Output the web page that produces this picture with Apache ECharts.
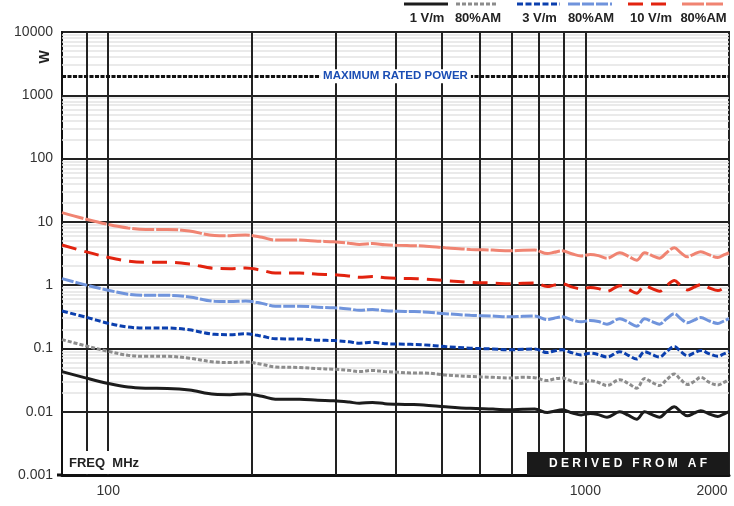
<!DOCTYPE html>
<html><head><meta charset="utf-8">
<script src="https://cdn.jsdelivr.net/npm/echarts@6/dist/echarts.min.js"></script>
<style>html,body{margin:0;padding:0;background:#fff}#c{width:734px;height:506px}</style>
</head><body><div id="c"></div>
<script>
const freqMHz = [80,90,100,110,120,133,148,167,180,194,210,224,252,275,297,320,336,358,380,406,430,458,509,574,640,694,740,783,832,860,894,940,980,1024,1065,1110,1181,1230,1281,1331,1380,1430,1480,1536,1585,1637,1690,1745,1820,1895,1950,2000];
const w1Vm = [0.043,0.034,0.028,0.0245,0.0235,0.0233,0.022,0.0188,0.0186,0.019,0.0175,0.0158,0.0158,0.0152,0.0149,0.0142,0.0136,0.014,0.0134,0.0131,0.013,0.0128,0.012,0.0113,0.011,0.0107,0.0109,0.011,0.0097,0.0102,0.0107,0.0095,0.0089,0.0094,0.009,0.0082,0.01,0.0088,0.0076,0.01,0.009,0.0082,0.01,0.012,0.01,0.0086,0.0095,0.0104,0.0092,0.0084,0.0092,0.01];
const w1VmAM = [0.138,0.109,0.09,0.078,0.075,0.075,0.07,0.061,0.06,0.061,0.056,0.051,0.05,0.048,0.047,0.045,0.043,0.045,0.043,0.042,0.041,0.041,0.038,0.036,0.035,0.034,0.035,0.0345,0.031,0.033,0.034,0.03,0.028,0.031,0.029,0.026,0.032,0.028,0.0235,0.0335,0.029,0.026,0.032,0.0395,0.032,0.027,0.03,0.035,0.029,0.0265,0.029,0.032];
const w3Vm = [0.39,0.31,0.25,0.218,0.21,0.21,0.197,0.167,0.165,0.17,0.156,0.142,0.141,0.135,0.133,0.127,0.121,0.125,0.119,0.117,0.116,0.114,0.107,0.101,0.098,0.095,0.097,0.098,0.086,0.091,0.095,0.085,0.079,0.084,0.08,0.073,0.089,0.078,0.068,0.089,0.08,0.073,0.089,0.107,0.089,0.077,0.085,0.093,0.082,0.075,0.082,0.089];
const w3VmAM = [1.27,1.0,0.83,0.72,0.69,0.69,0.65,0.555,0.55,0.56,0.515,0.466,0.466,0.448,0.44,0.419,0.4,0.413,0.395,0.386,0.383,0.378,0.354,0.333,0.325,0.316,0.322,0.325,0.286,0.3,0.316,0.28,0.263,0.277,0.266,0.242,0.295,0.26,0.224,0.295,0.266,0.242,0.295,0.354,0.295,0.254,0.28,0.307,0.271,0.248,0.271,0.295];
const w10Vm = [4.3,3.35,2.75,2.4,2.3,2.3,2.15,1.84,1.82,1.86,1.71,1.55,1.55,1.49,1.46,1.39,1.33,1.37,1.31,1.28,1.27,1.25,1.18,1.11,1.08,1.05,1.07,1.08,0.95,1.0,1.05,0.93,0.87,0.92,0.88,0.8,0.98,0.86,0.745,0.98,0.88,0.8,0.98,1.18,0.98,0.84,0.93,1.02,0.9,0.82,0.9,0.98];
const w10VmAM = [14.0,11.0,9.1,8.0,7.6,7.6,7.15,6.1,6.05,6.2,5.7,5.15,5.15,4.95,4.85,4.6,4.4,4.55,4.35,4.25,4.2,4.15,3.9,3.67,3.58,3.48,3.55,3.58,3.15,3.3,3.48,3.1,2.9,3.05,2.93,2.67,3.25,2.86,2.47,3.25,2.93,2.67,3.25,3.9,3.25,2.8,3.1,3.38,3.0,2.73,3.0,3.25];

const seriesNames = ['1 V/m','80%AM','3 V/m','80%AM ','10 V/m','80%AM  '];
const legendLabels = ['1 V/m','80%AM','3 V/m','80%AM','10 V/m','80%AM'];
const yTicks = [0.001,0.01,0.1,1,10,100,1000,10000];
const xTicks = [100,1000,2000];
const xGridLines = [90,100,200,300,400,500,600,700,800,900,1000];
const yMajorLines = [0.01,0.1,1,10,100,1000];
const yMinorLines = [];
[0.001,0.01,0.1,1,10,100,1000].forEach(d=>{[2,3,4,5,6,7,8,9].forEach(m=>yMinorLines.push(+(m*d).toPrecision(3)));});
const maxRatedPower = 2000;

const colors = ['#1c1c1c','#8c8c8c','#0b3fae','#7094dc','#e2230f','#f08472'];
const dashes = ['solid',[4,2],[6,2.5],[12,2],[15,8],[22,2]];

const el = document.getElementById('c');
const chart = echarts.init(el, null, {renderer:'canvas'});
const valueSets = [w1Vm,w1VmAM,w3Vm,w3VmAM,w10Vm,w10VmAM];

const gridMarks = [];
yMinorLines.forEach(v=>gridMarks.push({yAxis:v, lineStyle:{color:'#e3e3e3',width:1.5,type:'solid'}}));
yMajorLines.forEach(v=>gridMarks.push({yAxis:v, lineStyle:{color:'#222',width:2,type:'solid'}}));
xGridLines.forEach(v=>gridMarks.push({xAxis:v, lineStyle:{color:'#222',width:2,type:'solid'}}));

const series = [{
  type:'line', name:'grid', data:[], z:1, silent:true,
  markLine:{silent:true, symbol:['none','none'], animation:false, label:{show:false}, data:gridMarks}
},{
  type:'line', name:'max', data:[], z:2, silent:true,
  markLine:{silent:true, symbol:['none','none'], animation:false,
    lineStyle:{color:'#111',width:3,type:[4,1.5]},
    label:{show:true, position:'middle', formatter:'MAXIMUM RATED POWER', color:'#1a4db4', fontWeight:'bold', fontSize:11.5, fontFamily:'Liberation Sans, Arial, sans-serif', backgroundColor:'#fff', padding:[1,3,1,3], distance:-7},
    data:[{yAxis:maxRatedPower}]}
}];
valueSets.forEach((vals,i)=>{
  series.push({type:'line', name:seriesNames[i], data:freqMHz.map((f,k)=>[f,vals[k]]), showSymbol:false, smooth:0.35, z:5+i,
    lineStyle:{color:colors[i], width:3, type:dashes[i]}, itemStyle:{color:colors[i]}, animation:false});
});

const legendX = [[404,448],[456,498],[517,560],[568,612],[628,672],[682,723]];
const graphics = [];
legendX.forEach((r,i)=>{
  graphics.push({type:'line', z:100, shape:{x1:r[0],y1:4,x2:r[1],y2:4}, style:{stroke:colors[i], lineWidth:3, lineDash: dashes[i]==='solid'?null:dashes[i]}});
  graphics.push({type:'text', z:100, x:(r[0]+r[1])/2+1, y:18, style:{text:legendLabels[i], fill:'#222', font:'bold 13px "Liberation Sans", Arial, sans-serif', textAlign:'center', textVerticalAlign:'middle'}});
});
graphics.push({type:'rect', z:100, shape:{x:63,y:451,width:97,height:23}, style:{fill:'#fff'}});
graphics.push({type:'text', z:101, x:69, y:463, style:{text:'FREQ  MHz', fill:'#222', font:'bold 13px "Liberation Sans", Arial, sans-serif', textVerticalAlign:'middle'}});
graphics.push({type:'rect', z:100, shape:{x:527,y:452,width:202,height:23}, style:{fill:'#1a1a1a'}});
graphics.push({type:'text', z:101, x:628, y:464, style:{text:'D E R I V E D   F R O M   A F', fill:'#fff', font:'bold 12px "Liberation Sans", Arial, sans-serif', textAlign:'center', textVerticalAlign:'middle'}});
graphics.push({type:'text', z:100, x:45, y:57, rotation:Math.PI/2, style:{text:'W', fill:'#222', font:'bold 14px "Liberation Sans", Arial, sans-serif', textAlign:'center', textVerticalAlign:'middle'}});
graphics.push({type:'line', z:100, shape:{x1:57,y1:475,x2:63,y2:475}, style:{stroke:'#111', lineWidth:3}});

chart.setOption({
  animation:false,
  backgroundColor:'#fff',
  grid:{left:62, right:5, top:32, bottom:31, show:true, borderColor:'#222', borderWidth:2, backgroundColor:'#fff'},
  xAxis:{type:'log', logBase:10, min:80, max:2000,
    axisLine:{show:true, onZero:false, lineStyle:{color:'#111', width:3}},
    axisTick:{show:false}, splitLine:{show:false}, minorSplitLine:{show:false},
    axisLabel:{customValues:xTicks, margin:9, fontSize:14, color:'#333', fontFamily:'Liberation Sans, Arial, sans-serif',
      formatter:v=> v===2000 ? '{r|2000}' : String(v), rich:{r:{fontSize:14, color:'#333', fontFamily:'Liberation Sans, Arial, sans-serif', padding:[0,34,0,0]}}}},
  yAxis:{type:'log', logBase:10, min:0.001, max:10000,
    axisLine:{show:true, lineStyle:{color:'#111', width:2}},
    axisTick:{show:false}, splitLine:{show:false},
    axisLabel:{customValues:yTicks, margin:9, fontSize:14, color:'#333', fontFamily:'Liberation Sans, Arial, sans-serif', formatter:v=>String(v)}},
  graphic:graphics,
  series:series
});
</script></body></html>
